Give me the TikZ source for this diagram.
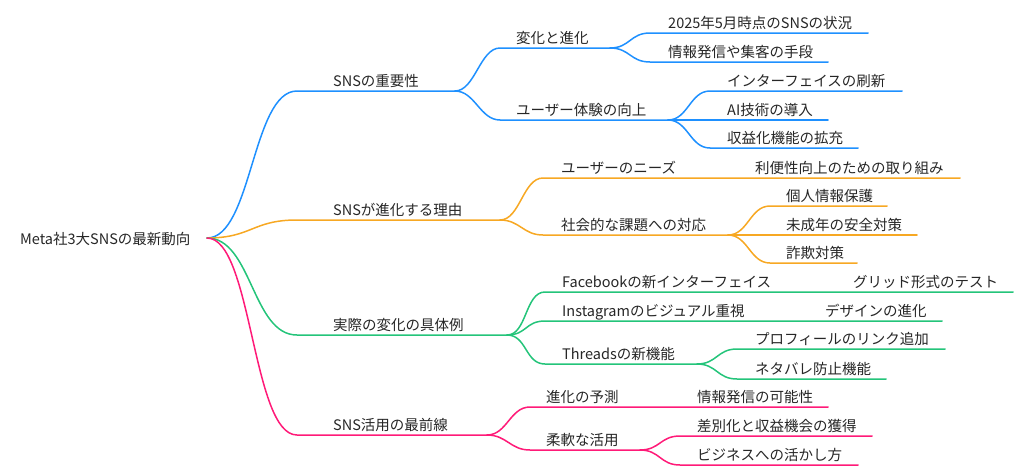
\documentclass[tikz,border=0pt]{standalone}
\usepackage{fontspec}
\setmainfont{Noto Sans CJK JP}
\usepackage{xcolor}
\usepackage{tikz}
\definecolor{mapblue}{HTML}{1E90FF}
\definecolor{maporange}{HTML}{F7A823}
\definecolor{mapgreen}{HTML}{24C47A}
\definecolor{mappink}{HTML}{FF1A78}
\tikzset{
	topic/.style={anchor=base west, inner sep=0pt, font=\fontsize{14.5}{17}\selectfont, text=black!85},
	branch/.style={line width=1.5pt, line cap=round},
	fan/.style={branch, to path={.. controls +(20,0) and +(-20,0) .. (\tikztotarget)}},
	trunk/.style={branch, to path={.. controls +(45,0) and +(-45,0) .. (\tikztotarget)}}
}

\begin{document}
\begin{tikzpicture}[x=1pt,y=-1pt]
				\useasboundingbox (0,0) rectangle (1024,474);
				
				\node[topic] (root) at (20,244) {Meta社3大SNSの最新動向};
				\coordinate (rootE) at (207,238);
				
				% first level
				\node[topic] (imp) at (333,86) {SNSの重要性};
				\coordinate (impS) at (297,91); \coordinate (impE) at (455,91);
				\node[topic] (why) at (333,215) {SNSが進化する理由};
				\coordinate (whyS) at (297,220); \coordinate (whyE) at (500,220);
				\node[topic] (ex) at (333,330) {実際の変化の具体例};
				\coordinate (exS) at (297,335); \coordinate (exE) at (507,335);
				\node[topic] (use) at (333,430) {SNS活用の最前線};
				\coordinate (useS) at (297,435); \coordinate (useE) at (487,435);
				
				% SNSの重要性
				\node[topic] (chg) at (516,43) {変化と進化};
				\coordinate (chgS) at (500,48); \coordinate (chgE) at (610,48);
				\node[topic] (ux) at (516,115) {ユーザー体験の向上};
				\coordinate (uxS) at (500,120); \coordinate (uxE) at (668,120);
				\node[topic] (now) at (668,28) {2025年5月時点のSNSの状況};
				\coordinate (nowS) at (650,33); \coordinate (nowE) at (868,33);
				\node[topic] (tool) at (668,57) {情報発信や集客の手段};
				\coordinate (toolS) at (650,62); \coordinate (toolE) at (828,62);
				\node[topic] (ui) at (727,86) {インターフェイスの刷新};
				\coordinate (uiS) at (710,91); \coordinate (uiE) at (902,91);
				\node[topic] (ai) at (727,115) {AI技術の導入};
				\coordinate (aiS) at (710,120); \coordinate (aiE) at (828,120);
				\node[topic] (pay) at (727,143) {収益化機能の拡充};
				\coordinate (payS) at (710,148); \coordinate (payE) at (858,148);
				
				% SNSが進化する理由
				\node[topic] (need) at (561,173) {ユーザーのニーズ};
				\coordinate (needS) at (543,178); \coordinate (needE) at (737,178);
				\node[topic] (easy) at (755,173) {利便性向上のための取り組み};
				\coordinate (easyE) at (960,178);
				\node[topic] (soc) at (561,230) {社会的な課題への対応};
				\coordinate (socS) at (543,235); \coordinate (socE) at (728,235);
				\node[topic] (priv) at (786,201) {個人情報保護};
				\coordinate (privS) at (770,206); \coordinate (privE) at (887,206);
				\node[topic] (minor) at (786,230) {未成年の安全対策};
				\coordinate (minorS) at (770,235); \coordinate (minorE) at (917,235);
				\node[topic] (scam) at (786,258) {詐欺対策};
				\coordinate (scamS) at (770,263); \coordinate (scamE) at (857,263);
				
				% 実際の変化の具体例
				\node[topic] (fb) at (562,287) {Facebookの新インターフェイス};
				\coordinate (fbS) at (545,292); \coordinate (fbE) at (835,292);
				\node[topic] (grid) at (853,287) {グリッド形式のテスト};
				\coordinate (gridE) at (1013,292);
				\node[topic] (ig) at (562,316) {Instagramのビジュアル重視};
				\coordinate (igS) at (545,321); \coordinate (igE) at (807,321);
				\node[topic] (design) at (825,316) {デザインの進化};
				\coordinate (designE) at (942,321);
				\node[topic] (th) at (562,359) {Threadsの新機能};
				\coordinate (thS) at (545,364); \coordinate (thE) at (697,364);
				\node[topic] (link) at (755,344) {プロフィールのリンク追加};
				\coordinate (linkS) at (737,349); \coordinate (linkE) at (945,349);
				\node[topic] (spoil) at (755,374) {ネタバレ防止機能};
				\coordinate (spoilS) at (737,379); \coordinate (spoilE) at (886,379);
				
				% SNS活用の最前線
				\node[topic] (pred) at (546,402) {進化の予測};
				\coordinate (predS) at (530,407); \coordinate (predE) at (679,407);
				\node[topic] (info) at (697,402) {情報発信の可能性};
				\coordinate (infoE) at (828,407);
				\node[topic] (flex) at (546,445) {柔軟な活用};
				\coordinate (flexS) at (530,450); \coordinate (flexE) at (640,450);
				\node[topic] (gain) at (697,431) {差別化と収益機会の獲得};
				\coordinate (gainS) at (680,436); \coordinate (gainE) at (872,436);
				\node[topic] (biz) at (697,460) {ビジネスへの活かし方};
				\coordinate (bizS) at (680,465); \coordinate (bizE) at (858,465);
				
				\draw[trunk, mapblue] (rootE) to (impS) -- (impE);
				\draw[trunk, maporange] (rootE) to (whyS) -- (whyE);
				\draw[trunk, mapgreen] (rootE) to (exS) -- (exE);
				\draw[trunk, mappink] (rootE) to (useS) -- (useE);
				
				\draw[fan, mapblue] (impE) to (chgS) -- (chgE);
				\draw[fan, mapblue] (impE) to (uxS) -- (uxE);
				\draw[fan, mapblue] (chgE) to (nowS) -- (nowE);
				\draw[fan, mapblue] (chgE) to (toolS) -- (toolE);
				\draw[fan, mapblue] (uxE) to (uiS) -- (uiE);
				\draw[fan, mapblue] (uxE) to (aiS) -- (aiE);
				\draw[fan, mapblue] (uxE) to (payS) -- (payE);
				
				\draw[fan, maporange] (whyE) to (needS) -- (needE) -- (easyE);
				\draw[fan, maporange] (whyE) to (socS) -- (socE);
				\draw[fan, maporange] (socE) to (privS) -- (privE);
				\draw[fan, maporange] (socE) to (minorS) -- (minorE);
				\draw[fan, maporange] (socE) to (scamS) -- (scamE);
				
				\draw[fan, mapgreen] (exE) to (fbS) -- (fbE) -- (gridE);
				\draw[fan, mapgreen] (exE) to (igS) -- (igE) -- (designE);
				\draw[fan, mapgreen] (exE) to (thS) -- (thE);
				\draw[fan, mapgreen] (thE) to (linkS) -- (linkE);
				\draw[fan, mapgreen] (thE) to (spoilS) -- (spoilE);
				
				\draw[fan, mappink] (useE) to (predS) -- (predE) -- (infoE);
				\draw[fan, mappink] (useE) to (flexS) -- (flexE);
				\draw[fan, mappink] (flexE) to (gainS) -- (gainE);
				\draw[fan, mappink] (flexE) to (bizS) -- (bizE);
			\end{tikzpicture}
\end{document}
